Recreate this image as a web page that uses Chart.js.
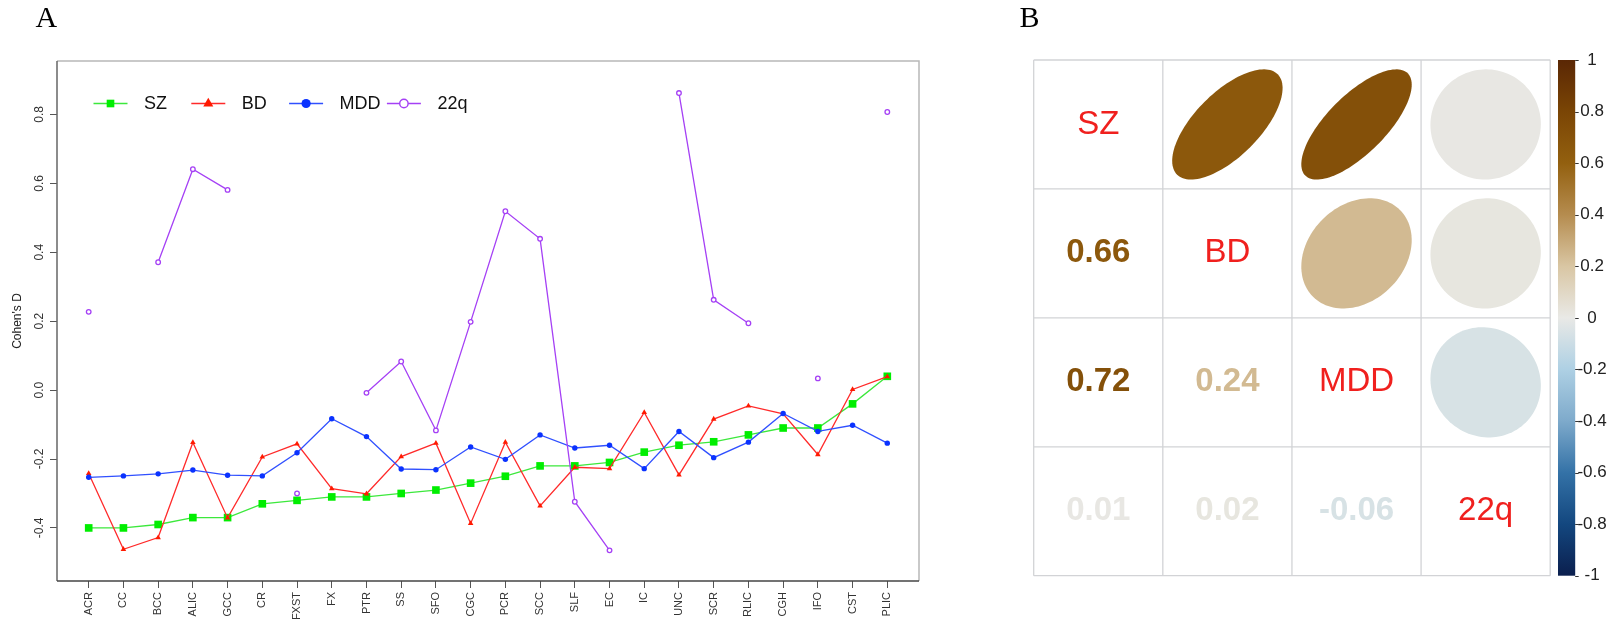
<!DOCTYPE html>
<html><head><meta charset="utf-8">
<script src="https://cdn.jsdelivr.net/npm/chart.js@4/dist/chart.umd.min.js"></script>
<style>
html,body{margin:0;padding:0;background:#fff;width:1613px;height:624px;overflow:hidden}
#a{position:absolute;left:0;top:0}
#b{position:absolute;left:980px;top:0}
</style></head><body>
<canvas id="a" width="980" height="624"></canvas>
<canvas id="b" width="633" height="624"></canvas>
<script>
// ---------------- data : panel A ----------------
const categories = ['ACR','CC','BCC','ALIC','GCC','CR','FXST','FX','PTR','SS','SFO','CGC','PCR','SCC','SLF','EC','IC','UNC','SCR','RLIC','CGH','IFO','CST','PLIC'];
const seriesNames = ['SZ','BD','MDD','22q'];
const sz  = [-0.40,-0.40,-0.39,-0.37,-0.37,-0.33,-0.32,-0.31,-0.31,-0.30,-0.29,-0.27,-0.25,-0.22,-0.22,-0.21,-0.18,-0.16,-0.15,-0.13,-0.11,-0.11,-0.04,0.04];
const bd  = [-0.242,-0.462,-0.428,-0.152,-0.371,-0.194,-0.156,-0.286,-0.301,-0.193,-0.154,-0.387,-0.151,-0.336,-0.224,-0.228,-0.065,-0.246,-0.084,-0.046,-0.069,-0.187,0.002,0.039];
const mdd = [-0.253,-0.249,-0.243,-0.232,-0.247,-0.249,-0.182,-0.083,-0.135,-0.229,-0.231,-0.165,-0.201,-0.130,-0.168,-0.160,-0.228,-0.120,-0.196,-0.151,-0.068,-0.120,-0.102,-0.154];
const q22 = [0.227,null,0.371,0.641,0.581,null,-0.300,null,-0.008,0.083,-0.117,0.198,0.519,0.439,-0.324,-0.465,null,0.862,0.262,0.194,null,0.034,null,0.807];
const yTickValues = [-0.4,-0.2,0.0,0.2,0.4,0.6,0.8];
const yTickLabels = ['-0.4','-0.2','0.0','0.2','0.4','0.6','0.8'];
const yTitle = "Cohen's D";

// ---------------- data : panel B ----------------
const groups = ['SZ','BD','MDD','22q'];
const corrSZ  = [1, 0.66, 0.72, 0.01];
const corrBD  = [0.66, 1, 0.24, 0.02];
const corrMDD = [0.72, 0.24, 1, -0.06];
const corr22q = [0.01, 0.02, -0.06, 1];
const colorbarTicks = [-1,-0.8,-0.6,-0.4,-0.2,0,0.2,0.4,0.6,0.8,1];

const FONT = "'Liberation Sans', Arial, Helvetica, sans-serif";
const SERIF = "'Liberation Serif', 'Times New Roman', serif";

// ---------------- panel A ----------------
const toPts = arr => arr.map((v, i) => ({x: i, y: v}));
const dsA = [
  {label: seriesNames[0], data: toPts(sz), borderColor: '#3ce83c', pointBackgroundColor: '#00ee00', pointBorderColor: '#00ee00',
   pointStyle: 'rect', pointRadius: 5.4, pointBorderWidth: 0, borderWidth: 1.3, order: 3, legR: 5.4},
  {label: seriesNames[1], data: toPts(bd), borderColor: '#ff2a2a', pointBackgroundColor: '#ff1a00', pointBorderColor: '#ff1a00',
   pointStyle: 'triangle', pointRadius: 3.2, pointBorderWidth: 0, borderWidth: 1.3, order: 2, legR: 5.8},
  {label: seriesNames[2], data: toPts(mdd), borderColor: '#3050ff', pointBackgroundColor: '#0a32ff', pointBorderColor: '#0a32ff',
   pointStyle: 'circle', pointRadius: 2.7, pointBorderWidth: 0, borderWidth: 1.3, order: 1, legR: 4.6},
  {label: seriesNames[3], data: toPts(q22), borderColor: '#a540f5', pointBackgroundColor: '#ffffff', pointBorderColor: '#a540f5',
   pointStyle: 'circle', pointRadius: 2.3, pointBorderWidth: 1.3, borderWidth: 1.3, order: 0, legR: 4.2, hollow: true}
];

function marker(ctx, style, x, y, r, fill, stroke, bw) {
  ctx.save();
  ctx.beginPath();
  if (style === 'rect') {
    const s = r * Math.SQRT1_2;
    ctx.rect(x - s, y - s, 2 * s, 2 * s);
  } else if (style === 'triangle') {
    for (let k = 0; k < 3; k++) {
      const a = k * 2 * Math.PI / 3;
      const px = x + Math.sin(a) * r, py = y - Math.cos(a) * r;
      k ? ctx.lineTo(px, py) : ctx.moveTo(px, py);
    }
    ctx.closePath();
  } else {
    ctx.arc(x, y, r, 0, 2 * Math.PI);
  }
  ctx.fillStyle = fill; ctx.fill();
  if (bw > 0) { ctx.lineWidth = bw; ctx.strokeStyle = stroke; ctx.stroke(); }
  ctx.restore();
}

const panelAPlugin = {
  id: 'panelA',
  afterDraw(chart) {
    const ctx = chart.ctx;
    const {left, top, right, bottom} = chart.chartArea;
    const ys = chart.scales.y;
    ctx.save();
    // box
    ctx.lineWidth = 1.5;
    ctx.strokeStyle = '#b8b8b8';
    ctx.beginPath(); ctx.moveTo(left, top); ctx.lineTo(right, top); ctx.lineTo(right, bottom); ctx.stroke();
    ctx.strokeStyle = '#666';
    ctx.beginPath(); ctx.moveTo(left, top); ctx.lineTo(left, bottom); ctx.stroke();
    ctx.strokeStyle = '#444';
    ctx.beginPath(); ctx.moveTo(left, bottom); ctx.lineTo(right, bottom); ctx.stroke();
    // rotated y tick labels
    ctx.fillStyle = '#333';
    ctx.font = '12px ' + FONT;
    ctx.textAlign = 'center'; ctx.textBaseline = 'middle';
    yTickValues.forEach((v, i) => {
      const y = ys.getPixelForValue(v);
      ctx.save(); ctx.translate(39.5, y); ctx.rotate(-Math.PI / 2);
      ctx.fillText(yTickLabels[i], 0, 0); ctx.restore();
    });
    // y title
    ctx.font = '12px ' + FONT; ctx.fillStyle = '#222';
    ctx.save(); ctx.translate(17.5, (top + bottom) / 2); ctx.rotate(-Math.PI / 2);
    ctx.fillText(yTitle, 0, 0); ctx.restore();
    // legend
    const ly = 103.5;
    chart.data.datasets.forEach((ds, i) => {
      const cx = 110.5 + i * 97.8;
      ctx.strokeStyle = ds.borderColor; ctx.lineWidth = ds.borderWidth;
      ctx.beginPath(); ctx.moveTo(cx - 17, ly); ctx.lineTo(cx + 17, ly); ctx.stroke();
      marker(ctx, ds.pointStyle, cx, ly, ds.legR, ds.pointBackgroundColor, ds.pointBorderColor, ds.hollow ? 1.4 : 0);
      ctx.fillStyle = '#111'; ctx.font = '18px ' + FONT;
      ctx.textAlign = 'left'; ctx.textBaseline = 'middle';
      ctx.fillText(ds.label, cx + 33.5, ly + 0.5);
    });
    // panel letter
    ctx.fillStyle = '#000'; ctx.font = '30px ' + SERIF;
    ctx.textAlign = 'left'; ctx.textBaseline = 'alphabetic';
    ctx.fillText('A', 35.5, 27);
    ctx.restore();
  }
};

new Chart(document.getElementById('a'), {
  type: 'line',
  data: {datasets: dsA},
  options: {
    responsive: false, animation: false, devicePixelRatio: 1,
    layout: {padding: {left: 0, top: 61, right: 61, bottom: 0}},
    plugins: {legend: {display: false}, tooltip: {enabled: false}},
    elements: {line: {tension: 0, fill: false}},
    spanGaps: false,
    scales: {
      x: {
        type: 'linear', min: -0.913, max: 23.913,
        afterBuildTicks: s => { s.ticks = categories.map((c, i) => ({value: i})); },
        afterFit: s => { s.height = 43; },
        ticks: {autoSkip: false, minRotation: 90, maxRotation: 90, padding: 4,
                font: {size: 11, family: FONT}, color: '#333',
                callback: v => categories[v]},
        grid: {display: true, drawOnChartArea: false, drawTicks: true, tickLength: 7, color: '#555', lineWidth: 1},
        border: {display: false}
      },
      y: {
        type: 'linear', min: -0.554, max: 0.955,
        afterBuildTicks: s => { s.ticks = yTickValues.map(v => ({value: v})); },
        afterFit: s => { s.width = 57; },
        ticks: {display: false},
        grid: {display: true, drawOnChartArea: false, drawTicks: true, tickLength: 7, color: '#555', lineWidth: 1},
        border: {display: false}
      }
    }
  },
  plugins: [panelAPlugin]
});

// ---------------- panel B ----------------
const cmapStops = [[-1,'#0b1f4e'],[-0.8,'#13477f'],[-0.6,'#3472a7'],[-0.4,'#7eaacb'],[-0.2,'#aed0e4'],
  [0,'#e9e9e6'],[0.2,'#d9c6a3'],[0.4,'#b58c4f'],[0.6,'#93600f'],[0.8,'#7a4505'],[1,'#5a2705']];
function hex2rgb(h) { return [1, 3, 5].map(i => parseInt(h.substr(i, 2), 16)); }
function cmap(v) {
  for (let k = 0; k < cmapStops.length - 1; k++) {
    const [v0, c0] = cmapStops[k], [v1, c1] = cmapStops[k + 1];
    if (v >= v0 && v <= v1) {
      const t = (v - v0) / (v1 - v0), a = hex2rgb(c0), b = hex2rgb(c1);
      return 'rgb(' + a.map((x, i) => Math.round(x + (b[i] - x) * t)).join(',') + ')';
    }
  }
  return cmapStops[cmapStops.length - 1][1];
}

const panelBPlugin = {
  id: 'panelB',
  afterDraw(chart) {
    const ctx = chart.ctx;
    const xs = chart.scales.x, ys = chart.scales.y, cb = chart.scales.cb;
    const matrix = [corrSZ, corrBD, corrMDD, corr22q];
    const n = groups.length;
    ctx.save();
    // cells
    for (let i = 0; i < n; i++) {
      for (let j = 0; j < n; j++) {
        const r = matrix[i][j];
        const cx = j + 0.5, cy = i + 0.5;
        if (j > i) {
          const a = Math.acos(r) / 2, s = 0.4275;
          ctx.beginPath();
          for (let k = 0; k <= 120; k++) {
            const t = 2 * Math.PI * k / 120;
            const px = xs.getPixelForValue(cx + Math.cos(t + a) * s);
            const py = ys.getPixelForValue(cy - Math.cos(t - a) * s);
            k ? ctx.lineTo(px, py) : ctx.moveTo(px, py);
          }
          ctx.closePath();
          ctx.fillStyle = cmap(r); ctx.fill();
        } else {
          const px = xs.getPixelForValue(cx), py = ys.getPixelForValue(cy);
          ctx.textAlign = 'center'; ctx.textBaseline = 'middle';
          if (i === j) {
            ctx.fillStyle = '#f0201e'; ctx.font = '33px ' + FONT;
            ctx.fillText(groups[i], px, py);
          } else {
            ctx.fillStyle = cmap(r); ctx.font = 'bold 33px ' + FONT;
            ctx.fillText(r.toFixed(2), px, py);
          }
        }
      }
    }
    // grid
    ctx.strokeStyle = '#d2d3d6'; ctx.lineWidth = 1.3;
    for (let k = 0; k <= n; k++) {
      const x = xs.getPixelForValue(k), y = ys.getPixelForValue(k);
      ctx.beginPath(); ctx.moveTo(x, ys.getPixelForValue(0)); ctx.lineTo(x, ys.getPixelForValue(n)); ctx.stroke();
      ctx.beginPath(); ctx.moveTo(xs.getPixelForValue(0), y); ctx.lineTo(xs.getPixelForValue(n), y); ctx.stroke();
    }
    // colour bar
    const yTop = cb.getPixelForValue(1), yBot = cb.getPixelForValue(-1);
    const grad = ctx.createLinearGradient(0, yTop, 0, yBot);
    cmapStops.forEach(([v, c]) => grad.addColorStop((1 - v) / 2, c));
    const bx0 = cb.left + 7.8, bx1 = cb.left + 25;
    ctx.fillStyle = grad;
    ctx.fillRect(bx0, yTop, bx1 - bx0, yBot - yTop);
    ctx.strokeStyle = '#333'; ctx.lineWidth = 1;
    colorbarTicks.forEach(v => {
      const y = Math.round(cb.getPixelForValue(v)) + 0.5;
      ctx.beginPath(); ctx.moveTo(bx1, y); ctx.lineTo(bx1 + 3.5, y); ctx.stroke();
    });
    // panel letter
    ctx.fillStyle = '#000'; ctx.font = '30px ' + SERIF;
    ctx.textAlign = 'left'; ctx.textBaseline = 'alphabetic';
    ctx.fillText('B', 39.5, 27);
    ctx.restore();
  }
};

new Chart(document.getElementById('b'), {
  type: 'scatter',
  data: {datasets: []},
  options: {
    responsive: false, animation: false, devicePixelRatio: 1,
    layout: {padding: {left: 53.7, top: 60, right: 0, bottom: 48.3}},
    plugins: {legend: {display: false}, tooltip: {enabled: false}},
    scales: {
      x: {type: 'linear', min: 0, max: groups.length, display: false},
      y: {type: 'linear', min: 0, max: groups.length, reverse: true, display: false},
      cb: {
        type: 'linear', position: 'right', min: -1, max: 1,
        afterBuildTicks: s => { s.ticks = colorbarTicks.map(v => ({value: v})); },
        afterFit: s => { s.width = 62.8; },
        ticks: {padding: 27.2, crossAlign: 'center', font: {size: 17, family: FONT}, color: '#222',
                callback: v => String(v)},
        grid: {display: false, drawTicks: false, drawOnChartArea: false},
        border: {display: false}
      }
    }
  },
  plugins: [panelBPlugin]
});
</script>
</body></html>
